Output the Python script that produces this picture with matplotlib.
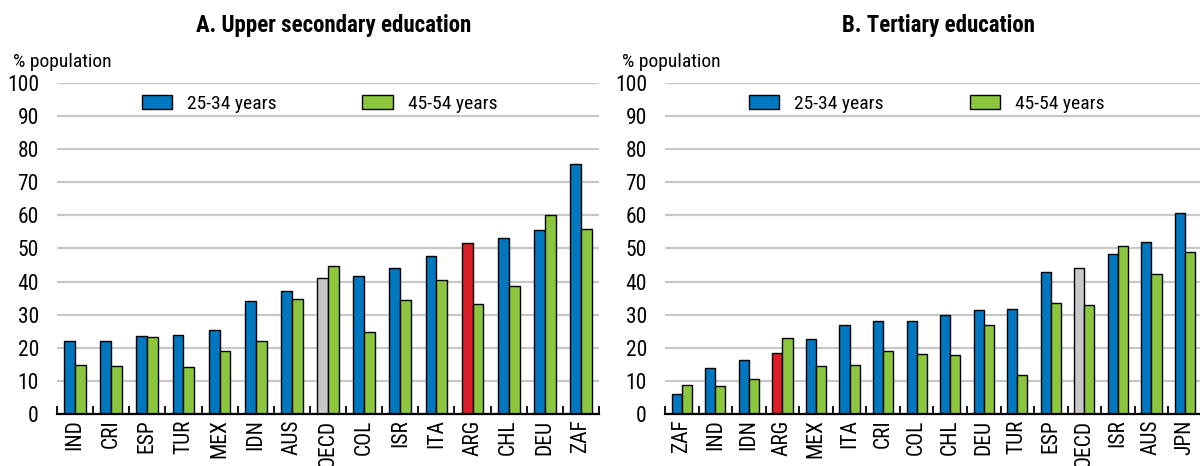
import numpy as np
import matplotlib
matplotlib.use("Agg")
import matplotlib.pyplot as plt

# Panel A: upper secondary education
sec_countries = ["IND", "CRI", "ESP", "TUR", "MEX", "IDN", "AUS", "OECD",
                 "COL", "ISR", "ITA", "ARG", "CHL", "DEU", "ZAF"]
sec_young = [22.1, 22.1, 23.5, 23.9, 25.5, 34.0, 37.3, 41.2,
             41.8, 44.2, 47.8, 51.6, 53.3, 55.5, 75.5]
sec_old = [14.8, 14.6, 23.4, 14.3, 19.1, 22.2, 34.8, 44.8,
           24.7, 34.4, 40.4, 33.3, 38.8, 60.1, 55.9]

# Panel B: tertiary education
ter_countries = ["ZAF", "IND", "IDN", "ARG", "MEX", "ITA", "CRI", "COL",
                 "CHL", "DEU", "TUR", "ESP", "OECD", "ISR", "AUS", "JPN"]
ter_young = [5.9, 13.9, 16.2, 18.4, 22.6, 26.9, 28.1, 28.2,
             30.0, 31.3, 31.6, 42.8, 44.2, 48.2, 52.1, 60.6]
ter_old = [8.8, 8.5, 10.6, 23.1, 14.5, 14.8, 18.9, 18.1,
           17.9, 27.0, 11.8, 33.6, 33.0, 50.8, 42.2, 48.8]

BLUE = "#0077bf"
GREEN = "#8cc63f"
RED = "#da1f26"
GREY = "#c8c8c8"

# Arial Narrow look-alike
plt.rcParams["font.family"] = ["Roboto Condensed", "Liberation Sans", "DejaVu Sans"]

fig = plt.figure(figsize=(12, 4.66), dpi=100)
ax1 = fig.add_axes([0.0475, 0.1116, 0.4517, 0.7103])
ax2 = fig.add_axes([0.5542, 0.1116, 0.4473, 0.7103])


def draw_panel(ax, countries, young, old, title):
    x = np.arange(len(countries))
    w = 0.3
    colors = [RED if c == "ARG" else GREY if c == "OECD" else BLUE for c in countries]
    ax.bar(x - w / 2, young, w, color=colors, edgecolor="black", linewidth=1.0,
           zorder=3, label="25-34 years")
    ax.bar(x + w / 2, old, w, color=GREEN, edgecolor="black", linewidth=1.0,
           zorder=3, label="45-54 years")
    ax.set_xlim(-0.5, len(countries) - 0.5)
    ax.set_ylim(0, 100)
    ax.set_yticks(range(0, 101, 10))
    ax.yaxis.grid(True, color="#c8c8c8", linewidth=1.6, zorder=0)
    ax.set_axisbelow(True)
    for s in ["top", "right", "left"]:
        ax.spines[s].set_visible(False)
    ax.spines["bottom"].set_linewidth(1.6)
    ax.spines["bottom"].set_zorder(4)
    ax.set_xticks(x)
    ax.set_xticklabels(countries, rotation=90, fontsize=15.5)
    ax.tick_params(axis="x", length=0, pad=4)
    ax.set_xticks(np.arange(-0.5, len(countries), 1.0), minor=True)
    ax.tick_params(axis="x", which="minor", direction="in", length=6, width=1.3)
    ax.tick_params(axis="y", length=0, labelsize=15.5, pad=13)
    ax.text(0.51, 1.154, title, transform=ax.transAxes, fontsize=16.5,
            fontweight="bold", ha="center", va="baseline")
    ax.text(-0.081, 1.048, "% population", transform=ax.transAxes, fontsize=14,
            ha="left", va="baseline")
    ax.legend(loc="center left", bbox_to_anchor=(0.157, 0.937), ncol=2,
              frameon=False, fontsize=14, handlelength=1.55, handleheight=0.72,
              columnspacing=4.4, handletextpad=0.77, borderaxespad=0,
              borderpad=0)


draw_panel(ax1, sec_countries, sec_young, sec_old, "A. Upper secondary education")
draw_panel(ax2, ter_countries, ter_young, ter_old, "B. Tertiary education")

fig.savefig("out.png", dpi=100)
